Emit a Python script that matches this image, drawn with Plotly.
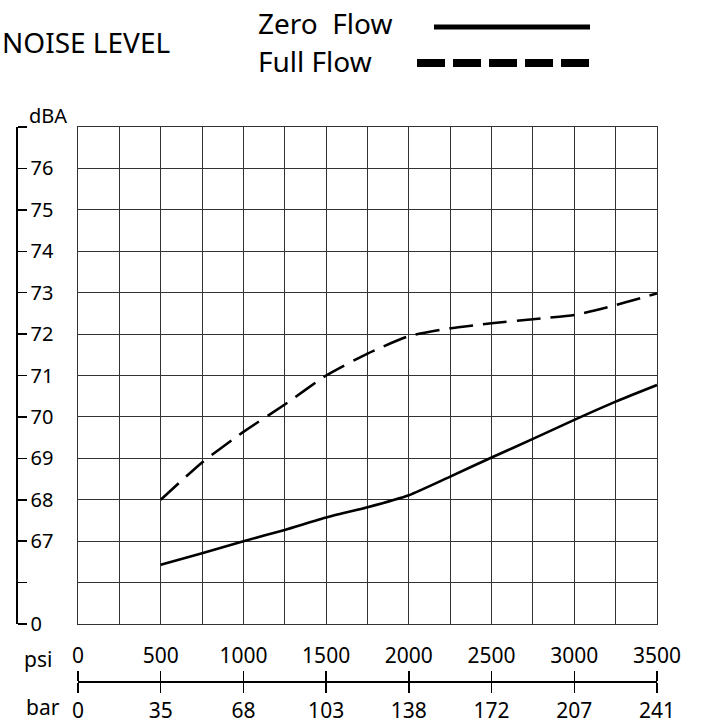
import plotly.graph_objects as go

# ---- data ----
psi = [500, 750, 1000, 1250, 1500, 1750, 2000, 2250, 2500, 2750, 3000, 3250, 3500]
zero_flow = [66.43, 66.71, 67.0, 67.27, 67.57, 67.82, 68.11, 68.56, 69.02, 69.47, 69.93, 70.37, 70.77]
full_flow = [68.0, 68.9, 69.64, 70.3, 71.0, 71.53, 71.95, 72.14, 72.26, 72.36, 72.46, 72.7, 72.98]

psi_ticks = [0, 500, 1000, 1500, 2000, 2500, 3000, 3500]
psi_labels = ["0", "500", "1000", "1500", "2000", "2500", "3000", "3500"]
bar_labels = ["0", "35", "68", "103", "138", "172", "207", "241"]

dba_ticks = [65, 66, 67, 68, 69, 70, 71, 72, 73, 74, 75, 76, 77]
dba_labels = ["0", "", "67", "68", "69", "70", "71", "72", "73", "74", "75", "76", ""]

# ---- layout geometry (pixels) ----
W, H = 702, 723
ML, MR, MT, MB = 16, 45, 127, 23
PW, PH = W - ML - MR, H - MT - MB


def px(x):
    return (x - ML) / PW


def py(y):
    return (H - MB - y) / PH


FONT = "Noto Sans"
GRID = "#333333"

fig = go.Figure()
fig.add_trace(go.Scatter(x=psi, y=zero_flow, mode="lines", name="Zero Flow",
                         line=dict(color="black", width=2.6, shape="spline", smoothing=0.5)))
fig.add_trace(go.Scatter(x=psi, y=full_flow, mode="lines", name="Full Flow",
                         line=dict(color="black", width=2.6, dash="24px,10px",
                                   shape="spline", smoothing=0.5)))

xdom = [px(78), px(657)]
ydom = [py(624), py(127)]
baraxis_pos = py(681)

fig.update_layout(
    width=W, height=H,
    margin=dict(l=ML, r=MR, t=MT, b=MB, autoexpand=False),
    paper_bgcolor="white", plot_bgcolor="white",
    showlegend=False,
    font=dict(family=FONT, color="black", size=20),
    xaxis=dict(domain=xdom, range=[0, 3500], dtick=250, tick0=0,
               showgrid=True, gridcolor=GRID, gridwidth=1.1,
               showline=True, mirror=True, linecolor=GRID, linewidth=1.1,
               showticklabels=False, ticks="", zeroline=False, fixedrange=True,
               automargin=False),
    yaxis=dict(domain=ydom, range=[65, 77], dtick=1, tick0=65,
               showgrid=True, gridcolor=GRID, gridwidth=1.1,
               showline=True, mirror=True, linecolor=GRID, linewidth=1.1,
               showticklabels=False, ticks="", zeroline=False, fixedrange=True,
               automargin=False),
    yaxis2=dict(overlaying="y", anchor="free", position=0, side="right",
                range=[65, 77], tickmode="array", tickvals=dba_ticks, ticktext=dba_labels,
                showgrid=False, zeroline=False, showline=True, linecolor="black", linewidth=1.5,
                ticks="outside", ticklen=9, tickwidth=1.5, tickcolor="black", automargin=False,
                tickfont=dict(family=FONT, size=20, color="black")),
    xaxis2=dict(overlaying="x", anchor="free", position=baraxis_pos, side="bottom",
                domain=xdom, range=[0, 3500], tickmode="array", tickvals=psi_ticks, ticktext=bar_labels,
                showgrid=False, zeroline=False, showline=True, linecolor="black", linewidth=1.5,
                ticks="outside", ticklen=10, tickwidth=1.5, tickcolor="black", automargin=False,
                tickfont=dict(family=FONT, size=21, color="black")),
    xaxis3=dict(overlaying="x", anchor="free", position=baraxis_pos, side="top",
                domain=xdom, range=[0, 3500], tickmode="array", tickvals=psi_ticks, ticktext=psi_labels,
                showgrid=False, zeroline=False, showline=True, linecolor="black", linewidth=1.5,
                ticks="outside", ticklen=10, tickwidth=1.5, tickcolor="black", automargin=False,
                tickfont=dict(family=FONT, size=21, color="black")),
)

# dummy traces so the extra axes render
fig.add_trace(go.Scatter(x=[None], y=[None], xaxis="x2", yaxis="y2", showlegend=False, hoverinfo="skip"))
fig.add_trace(go.Scatter(x=[None], y=[None], xaxis="x3", yaxis="y", showlegend=False, hoverinfo="skip"))

ann = [
    dict(text="NOISE LEVEL", x=px(0), y=py(42), xanchor="left", yanchor="middle", size=28),
    dict(text="Zero&nbsp;&nbsp;Flow", x=px(256), y=py(23), xanchor="left", yanchor="middle", size=28),
    dict(text="Full Flow", x=px(256), y=py(61), xanchor="left", yanchor="middle", size=28),
    dict(text="dBA", x=px(27), y=py(116), xanchor="left", yanchor="middle", size=20),
    dict(text="psi", x=px(22), y=py(659), xanchor="left", yanchor="middle", size=21),
    dict(text="bar", x=px(24), y=py(707), xanchor="left", yanchor="middle", size=21),
]
for a in ann:
    fig.add_annotation(text=a["text"], x=a["x"], y=a["y"], xref="paper", yref="paper",
                       xanchor=a["xanchor"], yanchor=a["yanchor"], showarrow=False,
                       font=dict(family=FONT, size=a["size"], color="black"))

# legend swatches
fig.add_shape(type="line", xref="paper", yref="paper", x0=px(434), x1=px(590), y0=py(27), y1=py(27),
              line=dict(color="black", width=5))
fig.add_shape(type="line", xref="paper", yref="paper", x0=px(417), x1=px(589), y0=py(63), y1=py(63),
              line=dict(color="black", width=8, dash="28px,8px"))

fig.write_html(
    "out.html",
    config={"displayModeBar": False, "staticPlot": True},
    post_script="document.body.style.margin='0';document.body.style.overflow='hidden';"
                "document.documentElement.style.overflow='hidden';",
)
